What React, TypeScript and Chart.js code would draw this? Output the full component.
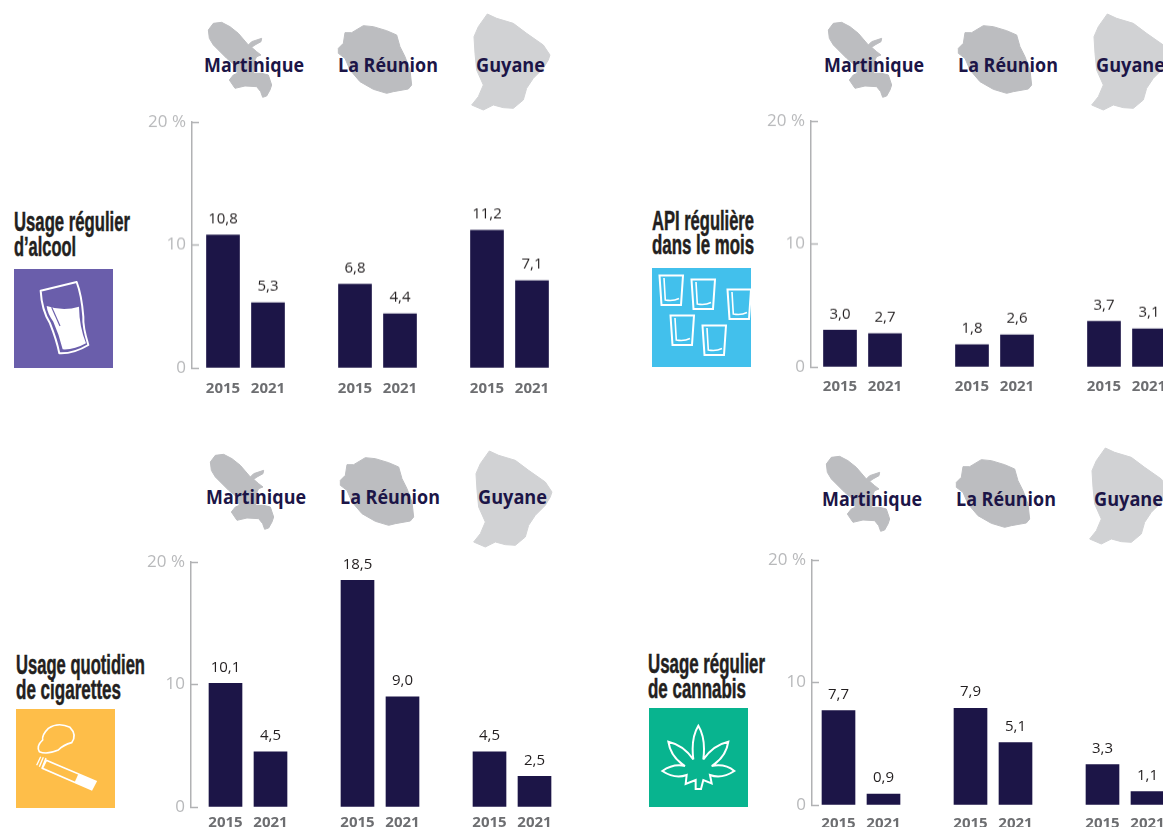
import React, { useEffect, useRef } from "react";
import { Chart, registerables } from "chart.js";

Chart.register(...registerables);

const regions = ["Martinique", "La Réunion", "Guyane"];
const years = ["2015", "2021"];
const alcool = [10.8, 5.3, 6.8, 4.4, 11.2, 7.1];
const api = [3.0, 2.7, 1.8, 2.6, 3.7, 3.1];
const cigarettes = [10.1, 4.5, 18.5, 9.0, 4.5, 2.5];
const cannabis = [7.7, 0.9, 7.9, 5.1, 3.3, 1.1];

const NAVY = "#1c1547";
const GROUP = 132;
const YEAR_OFFSET = 22.5 / GROUP;
const AXIS_LEFT = 60;
const PAD_TOP = 12;
const AXIS_BOTTOM = 30;

const panels = [
  { values: alcool, axisX: 191.5, top: 122, height: 245.5, first: 245, width: 470, gap: 4 },
  { values: api, axisX: 810.5, top: 121, height: 245.5, first: 862, width: 440, gap: 2.5 },
  { values: cigarettes, axisX: 190.5, top: 562, height: 245, first: 247.5, width: 470, gap: -1.5 },
  { values: cannabis, axisX: 811.5, top: 559.5, height: 245.5, first: 860.5, width: 440, gap: 1.5 },
];

const valueLabels = {
  id: "valueLabels",
  afterDatasetsDraw(chart: any) {
    const { ctx } = chart;
    const meta = chart.getDatasetMeta(0);
    ctx.save();
    ctx.font = '15px "Open Sans"';
    ctx.fillStyle = "#231f20";
    ctx.textAlign = "center";
    ctx.textBaseline = "middle";
    meta.data.forEach((bar: any, i: number) => {
      const v = chart.data.datasets[0].data[i].y;
      ctx.fillText(v.toFixed(1).replace(".", ","), bar.x, bar.y - 16);
    });
    ctx.restore();
  },
};

function Panel({ values, axisX, top, height, first, width, gap }: any) {
  const ref = useRef<HTMLCanvasElement>(null);
  useEffect(() => {
    const points = values.map((y: number, i: number) => ({
      x: Math.floor(i / 2) + (i % 2 === 0 ? -YEAR_OFFSET : YEAR_OFFSET),
      y,
    }));
    const xs = points.map((p: any) => p.x);
    const min = -(first - axisX) / GROUP;
    const chart = new Chart(ref.current!, {
      type: "bar",
      data: {
        datasets: [{ data: points, backgroundColor: NAVY, barThickness: 33, borderWidth: 0 }],
      },
      plugins: [valueLabels],
      options: {
        animation: false,
        responsive: false,
        devicePixelRatio: 1,
        layout: { padding: { top: PAD_TOP, left: 0, right: 0, bottom: 0 } },
        plugins: { legend: { display: false }, tooltip: { enabled: false } },
        scales: {
          x: {
            type: "linear",
            offset: false,
            min,
            max: min + (width - AXIS_LEFT) / GROUP,
            grid: { display: false },
            border: { display: false },
            afterBuildTicks: (s: any) => {
              s.ticks = xs.map((value: number) => ({ value }));
            },
            afterFit: (s: any) => {
              s.height = AXIS_BOTTOM;
              s.paddingLeft = 0;
              s.paddingRight = 0;
            },
            ticks: {
              autoSkip: false,
              maxRotation: 0,
              padding: gap,
              color: "#6d6e71",
              font: { family: '"Open Sans"', size: 15, weight: "bold" },
              callback: (v: number) => years[xs.indexOf(v) % 2],
            },
          },
          y: {
            min: 0,
            max: 20,
            afterFit: (s: any) => {
              s.width = AXIS_LEFT;
              s.paddingTop = 0;
              s.paddingBottom = 0;
            },
            border: { color: "#b1b2b4", width: 1.5 },
            grid: {
              drawOnChartArea: false,
              tickLength: -7,
              tickColor: "#b1b2b4",
              tickWidth: 1.5,
            },
            ticks: {
              stepSize: 10,
              padding: 13,
              color: "#b8b9bb",
              font: { family: '"Open Sans"', size: 17 },
              callback: (v: number) => (v === 20 ? "20 %" : String(v)),
            },
          },
        },
      } as any,
    });
    return () => chart.destroy();
  }, []);
  return (
    <canvas
      ref={ref}
      width={width}
      height={PAD_TOP + height + AXIS_BOTTOM}
      style={{ position: "absolute", left: axisX - AXIS_LEFT, top: top - PAD_TOP, width, height: PAD_TOP + height + AXIS_BOTTOM }}
    />
  );
}

const MARTINIQUE = "25,60 40,40 65,37 90,50 115,70 145,105 155,95 185,85 183,95 165,105 155,112 170,125 183,135 170,140 165,150 168,170 160,190 185,190 205,195 215,225 210,240 200,258 188,262 182,245 170,230 135,228 105,235 88,210 100,195 112,190 105,165 80,145 55,120 40,105 28,85";
const REUNION = "25,115 40,100 45,68 65,68 100,47 130,50 170,62 200,75 210,110 225,140 240,180 245,225 235,237 190,245 170,250 130,238 90,215 60,180 45,145 25,130";
const GUYANE = "432,80 445,50 472,12 500,25 550,40 590,70 640,105 660,135 655,150 640,175 610,205 590,235 580,270 550,295 520,293 490,285 460,300 425,285 445,260 460,225 440,180 435,130";

function Maps({ dx, dy, dyG = dy }: { dx: number; dy: number; dyG?: number }) {
  const shape = { strokeWidth: 3, strokeLinejoin: "round" as const };
  return (
    <>
      <g transform={`translate(${200 + dx},${10 + dy}) scale(0.3333)`}>
        <polygon points={MARTINIQUE} fill="#bcbdc0" stroke="#bcbdc0" {...shape} />
      </g>
      <g transform={`translate(${330 + dx},${10 + dy}) scale(0.3333)`}>
        <polygon points={REUNION} fill="#bcbdc0" stroke="#bcbdc0" {...shape} />
      </g>
      <g transform={`translate(${330 + dx},${10 + dyG}) scale(0.3333)`}>
        <polygon points={GUYANE} fill="#d1d2d4" stroke="#d1d2d4" {...shape} />
      </g>
    </>
  );
}

const regionFont = { fontFamily: '"Open Sans"', fontWeight: 700, fontSize: 19, fill: NAVY };
const regionWidths = [100, 100, 69];

function RegionLabels({ xs, y }: { xs: number[]; y: number }) {
  return (
    <>
      {regions.map((r, i) => (
        <text key={r} x={xs[i]} y={y} textLength={regionWidths[i]} lengthAdjust="spacingAndGlyphs" {...regionFont}>
          {r}
        </text>
      ))}
    </>
  );
}

const titleFont = { fontFamily: '"Liberation Sans"', fontWeight: 700, fontSize: 27, fill: "#231f20" };

function Title({ x, y, w, children }: any) {
  return (
    <text x={x} y={y} textLength={w} lengthAdjust="spacingAndGlyphs" {...titleFont} stroke="#231f20" strokeWidth={0.5}>
      {children}
    </text>
  );
}

function Cup({ x, y }: { x: number; y: number }) {
  return (
    <g transform={`translate(${x},${y})`}>
      <path d="M0.5,0.5 H24 L22,30 H2.5 Z" fill="none" stroke="#fff" strokeWidth={2} />
      <path d="M5,3 L6.3,25 Q14,26.5 20,23.5" fill="none" stroke="#fff" strokeWidth={1.6} />
    </g>
  );
}

function Icons() {
  return (
    <>
      <rect x={14} y={269} width={99} height={99} fill="#6a5eab" />
      <g transform="translate(0,260) scale(0.3333)">
        <path d="M122,92 L230,66 Q245,105 250,170 Q248,200 265,255 Q220,282 178,280 Q170,240 150,190 Q125,150 122,92 Z" fill="none" stroke="#fff" strokeWidth={6} strokeLinejoin="round" />
        <path d="M140,138 Q190,155 237,140 Q238,200 258,250 Q222,270 188,268 Q178,225 160,185 Q142,160 140,138 Z" fill="#fff" />
        <path d="M155,142 L180,198" stroke="#6a5eab" strokeWidth={3.5} />
      </g>

      <rect x={652} y={268} width={99} height={99} fill="#42c0ec" />
      <svg x={652} y={268} width={99} height={99} viewBox="0 0 99 99">
        <Cup x={7} y={7} />
        <Cup x={39} y={11} />
        <Cup x={75} y={21} />
        <Cup x={18} y={47} />
        <Cup x={50} y={57} />
      </svg>

      <rect x={16} y={709} width={99} height={99} fill="#febe49" />
      <g transform="translate(16,709) scale(0.3333) translate(-48,-207)">
        <path d="M118,335 Q108,318 128,300 Q125,285 145,265 Q175,245 210,262 Q232,285 215,308 Q190,315 175,330 Q140,345 118,335 Z" fill="none" stroke="#fff" strokeWidth={5} />
        <path d="M139,361 L288,424 L275,449 L127,385 Z" fill="none" stroke="#fff" strokeWidth={5} />
        <path d="M235,402 L288,424 L275,449 L224,427 Z" fill="#fff" />
        <path d="M110,376 L122,350 M118,380 L130,352 M126,384 L138,354" stroke="#fff" strokeWidth={4} />
      </g>

      <rect x={649} y={708} width={99} height={99} fill="#08b48f" />
      <g transform="translate(649,708) scale(0.3333) translate(-27,-204)">
        <path
          d="M175,257 Q198,295 190,358 Q220,315 265,305 Q258,352 215,378 Q255,370 283,393 Q245,418 210,405 L215,430 L190,420 L183,447 L167,447 L167,420 L137,432 L140,405 Q105,418 67,393 Q100,370 135,378 Q92,352 85,305 Q130,315 160,358 Q152,295 175,257 Z"
          fill="none"
          stroke="#fff"
          strokeWidth={6}
        />
      </g>
    </>
  );
}

export default function App() {
  return (
    <div style={{ position: "absolute", left: 0, top: 0, width: 1163, height: 827, overflow: "hidden", background: "#fff" }}>
      <svg width={1163} height={827} style={{ position: "absolute", left: 0, top: 0 }}>
        <Maps dx={0} dy={0} />
        <Maps dx={620} dy={0} />
        <Maps dx={2} dy={432} dyG={437} />
        <Maps dx={618} dy={434} />
        <RegionLabels xs={[204, 338, 476]} y={72} />
        <RegionLabels xs={[824, 958, 1096]} y={72} />
        <RegionLabels xs={[206, 340, 478]} y={504} />
        <RegionLabels xs={[822, 956, 1094]} y={506} />
        <Title x={14} y={231} w={116}>Usage régulier</Title>
        <Title x={14} y={256} w={62}>d’alcool</Title>
        <Title x={652} y={230} w={102}>API régulière</Title>
        <Title x={652} y={254} w={102}>dans le mois</Title>
        <Title x={16} y={674} w={129}>Usage quotidien</Title>
        <Title x={16} y={699} w={105}>de cigarettes</Title>
        <Title x={648} y={673} w={117}>Usage régulier</Title>
        <Title x={648} y={698} w={98}>de cannabis</Title>
        <Icons />
      </svg>
      {panels.map((p, i) => (
        <Panel key={i} {...p} />
      ))}
    </div>
  );
}
